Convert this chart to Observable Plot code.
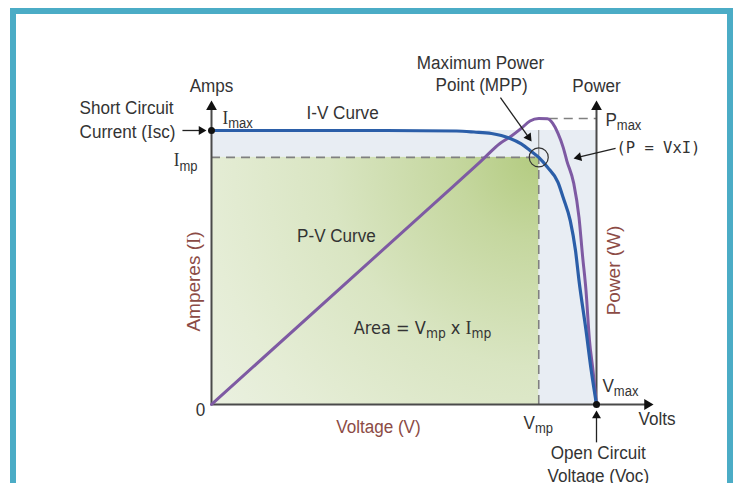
<!DOCTYPE html>
<html><head><meta charset="utf-8">
<script src="https://cdn.jsdelivr.net/npm/d3@7"></script>
<script src="https://cdn.jsdelivr.net/npm/@observablehq/plot@0.6"></script>
<style>
html,body{margin:0;padding:0;background:#fff;}
#wrap{position:relative;width:734px;height:483px;overflow:hidden;}
#wrap svg{position:absolute;left:0;top:0;}
#frame{position:absolute;left:10px;top:8px;width:711px;height:500px;border:6px solid #4bacc6;border-bottom:none;pointer-events:none;}
</style></head>
<body><div id="wrap"><div id="frame"></div></div>
<script>
// ---- data (volts, amps, watts) ----
const ivVolts = [0, 5, 10, 14, 15, 16, 17, 17.7, 18.2, 18.7, 19.2, 19.8, 20.1, 20.5, 20.8, 21.0, 21.4, 21.7, 22];
const ivAmps  = [5.5, 5.5, 5.5, 5.49, 5.47, 5.44, 5.35, 5.23, 5.1, 4.96, 4.76, 4.46, 4.15, 3.69, 3.09, 2.49, 1.49, 0.68, 0];
const pvVolts = [0, 13.1, 15.4, 16.5, 17.1, 17.7, 18.2, 18.7, 19.2, 19.5, 19.8, 20.1, 20.3, 20.7, 21.0, 21.2, 21.4, 21.6, 21.8, 22];
const pvWatts = [0, 67, 78.8, 84.6, 86.8, 89.4, 91.8, 92.6, 92.5, 91, 87.8, 83.2, 79, 71.6, 60.6, 48.3, 36.9, 20.7, 11, 0];
const isc = 5.5, voc = 22, vmp = 18.7, imp = 4.96, pmax = 92.6;
const powerTopAmps = 5.74;              // where Pmax sits on the shared frame
const k = powerTopAmps / pmax;           // watts -> amps-axis units

// ---- layout ----
const W = 734, H = 483, mL = 211, mR = 138, mT = 130, mB = 79;
const xDomain = [0, voc], yDomain = [0, isc];
const sx = Plot.scale({x: {domain: xDomain, range: [mL, W - mR]}});
const sy = Plot.scale({y: {domain: yDomain, range: [H - mB, mT]}});

const sans = "'Liberation Sans',Arial,sans-serif";
const mono = "'DejaVu Sans Mono',monospace";
const cond = "'DejaVu Sans Condensed','DejaVu Sans',sans-serif";
const txt = "#333333", brown = "#8c4b45";

const labels = [
  {text: "Maximum Power", x: 15.37, y: 6.86, anchor: "middle"},
  {text: "Point (MPP)", x: 15.43, y: 6.42, anchor: "middle"},
  {text: "Power", x: 22, y: 6.40, anchor: "middle"},
  {text: "Amps", x: 0, y: 6.40, anchor: "middle"},
  {text: "Short Circuit", x: -2.17, y: 5.96, anchor: "end"},
  {text: "Current ([I]sc)", x: -2.06, y: 5.48, anchor: "end"},
  {text: "[I]_{max}", x: 0.63, y: 5.76, anchor: "start"},
  {text: "I-V Curve", x: 7.49, y: 5.86, anchor: "middle"},
  {text: "P_{max}", x: 22.51, y: 5.72, anchor: "start"},
  {text: "(P = VxI)", x: 23.14, y: 5.14, anchor: "start", font: mono, size: 15.5, stretch: 1},
  {text: "[I]_{mp}", x: -0.8, y: 4.90, anchor: "end"},
  {text: "P-V Curve", x: 7.14, y: 3.39, anchor: "middle"},
  {text: "Amperes ([I])", x: -1.03, y: 2.47, anchor: "middle", rotate: -90, fill: brown, stretch: 1},
  {text: "Power (W)", x: 22.97, y: 2.69, anchor: "middle", rotate: -90, fill: brown, stretch: 1},
  {text: "Area = V_{mp} x [I]_{mp}", x: 12.06, y: 1.53, anchor: "middle", font: cond, size: 18, stretch: 1},
  {text: "V_{max}", x: 22.34, y: 0.38, anchor: "start"},
  {text: "0", x: -0.63, y: -0.10, anchor: "middle"},
  {text: "Voltage (V)", x: 9.54, y: -0.44, anchor: "middle", fill: brown},
  {text: "V_{mp}", x: 17.83, y: -0.36, anchor: "start"},
  {text: "Volts", x: 24.4, y: -0.28, anchor: "start"},
  {text: "Open Circuit", x: 22.1, y: -0.98, anchor: "middle"},
  {text: "Voltage (Voc)", x: 22.1, y: -1.43, anchor: "middle"}
];

const axisArrows = [
  {from: [0, 0], tip: [0, 6.1]},
  {from: [voc, 0], tip: [voc, 6.1]},
  {from: [0, 0], tip: [25.26, 0]}
];
const noteArrows = [
  {from: [-1.66, isc], tip: [-0.29, isc]},
  {from: [16.51, 6.16], tip: [18.29, 5.28]},
  {from: [23.09, 5.14], tip: [20.69, 4.94]},
  {from: [voc, -0.76], tip: [voc, -0.12]}
];

function arrowParts(list, r) {
  return list.map(a => {
    const tx = sx.apply(a.tip[0]), ty = sy.apply(a.tip[1]);
    const fx = sx.apply(a.from[0]), fy = sy.apply(a.from[1]);
    const dx = tx - fx, dy = ty - fy, L = Math.hypot(dx, dy), ux = dx / L, uy = dy / L;
    return {
      x1: a.from[0], y1: a.from[1],
      x2: sx.invert(tx - ux * 1.6 * r), y2: sy.invert(ty - uy * 1.6 * r),
      hx: sx.invert(tx - ux * 1.555 * r), hy: sy.invert(ty - uy * 1.555 * r),
      rot: Math.atan2(ux, -uy) * 180 / Math.PI
    };
  });
}
const axisA = arrowParts(axisArrows, 4.0);
const noteA = arrowParts(noteArrows, 3.3);

const iv = ivVolts.map((v, i) => ({v, a: ivAmps[i]}));
const pv = pvVolts.map((v, i) => ({v, p: pvWatts[i] * k}));

const dash = {stroke: "#808080", strokeWidth: 1.6, strokeDasharray: "9,6"};

const marks = [
  Plot.rect([{}], {x1: 0, x2: voc, y1: 0, y2: isc, fill: "#e8edf3"}),
  Plot.rect([{}], {x1: 0, x2: vmp, y1: 0, y2: imp, fill: "url(#mppGrad)"}),
  Plot.ruleY([imp], {x1: 0, x2: vmp, ...dash}),
  Plot.ruleX([vmp], {y1: 0, y2: imp, ...dash}),
  Plot.ruleX([vmp], {y1: imp, y2: isc, stroke: "#808080", strokeWidth: 1}),
  Plot.ruleY([pmax * k], {x1: 19.3, x2: voc, ...dash}),
  Plot.link(axisA, {x1: "x1", y1: "y1", x2: "x2", y2: "y2", stroke: "#4a4a4a", strokeWidth: 2}),
  Plot.dot(axisA, {x: "hx", y: "hy", rotate: "rot", symbol: "triangle", r: 4.0, fill: "#111", stroke: "none"}),
  Plot.line(pv, {x: "v", y: "p", stroke: "#7e5aa3", strokeWidth: 3, curve: "monotone-x"}),
  Plot.line(iv, {x: "v", y: "a", stroke: "#2b5ea8", strokeWidth: 3.2, curve: "monotone-x"}),
  Plot.dot([[0, isc], [voc, 0]], {r: 3.5, fill: "#111", stroke: "none"}),
  Plot.dot([[vmp, imp]], {r: 9.5, fill: "none", stroke: "#333", strokeWidth: 1.2}),
  Plot.link(noteA, {x1: "x1", y1: "y1", x2: "x2", y2: "y2", stroke: "#222", strokeWidth: 1.3}),
  Plot.dot(noteA, {x: "hx", y: "hy", rotate: "rot", symbol: "triangle", r: 3.3, fill: "#111", stroke: "none"}),
  ...labels.map(l => Plot.text([l], {
    x: "x", y: "y", text: "text", textAnchor: l.anchor,
    rotate: l.rotate || 0, fill: l.fill || txt,
    fontFamily: l.font || sans, fontSize: l.size || 19
  }))
];

const svg = Plot.plot({
  width: W, height: H,
  marginLeft: mL, marginRight: mR, marginTop: mT, marginBottom: mB,
  x: {domain: xDomain, axis: null},
  y: {domain: yDomain, axis: null},
  style: {background: "transparent", overflow: "visible"},
  marks
});
const wrap = document.getElementById("wrap");
wrap.insertBefore(svg, wrap.firstChild);

// radial gradient centred on the maximum power point
const s = d3.select(svg);
const defs = s.insert("defs", ":first-child");
const g = defs.append("radialGradient").attr("id", "mppGrad").attr("gradientUnits", "userSpaceOnUse")
  .attr("cx", sx.apply(vmp)).attr("cy", sy.apply(imp)).attr("r", 420);
[[0, "#b3cb80"], [0.2, "#c5d79f"], [0.5, "#d9e5c2"], [0.8, "#e5edd6"], [1, "#ebf1e2"]].forEach(([o, c]) =>
  g.append("stop").attr("offset", o).attr("stop-color", c));

// rich text: [X] = serif glyph, _{..} = subscript
function parseRich(str) {
  const re = /\[([^\]]*)\]|_\{([^}]*)\}/g; const out = []; let last = 0, m;
  while ((m = re.exec(str))) {
    if (m.index > last) out.push({t: str.slice(last, m.index)});
    if (m[1] !== undefined) out.push({t: m[1], serif: true}); else out.push({t: m[2], sub: true});
    last = re.lastIndex;
  }
  if (last < str.length) out.push({t: str.slice(last)});
  return out;
}
s.selectAll("text").each(function (d, i) {
  const lab = labels[i] || {};
  const stretch = lab.stretch != null ? lab.stretch : 0.9;
  if (stretch !== 1) {
    const tr = this.getAttribute("transform") || "";
    this.setAttribute("transform", tr + ` scale(${stretch},1)`);
  }
  const raw = this.textContent;
  if (!/\[|_\{/.test(raw)) return;
  const fs = parseFloat(getComputedStyle(this).fontSize) || 19;
  const parts = parseRich(raw);
  this.textContent = "";
  let shifted = false;
  parts.forEach(p => {
    const ts = d3.select(this).append("tspan").text(p.t);
    if (p.sub) {
      ts.attr("font-size", fs * 0.76).attr("dy", shifted ? 0 : fs * 0.22);
      shifted = true;
    } else {
      if (shifted) { ts.attr("dy", -fs * 0.22); shifted = false; }
      if (p.serif) ts.attr("font-family", "'Liberation Serif',serif");
    }
  });
});
</script></body></html>
